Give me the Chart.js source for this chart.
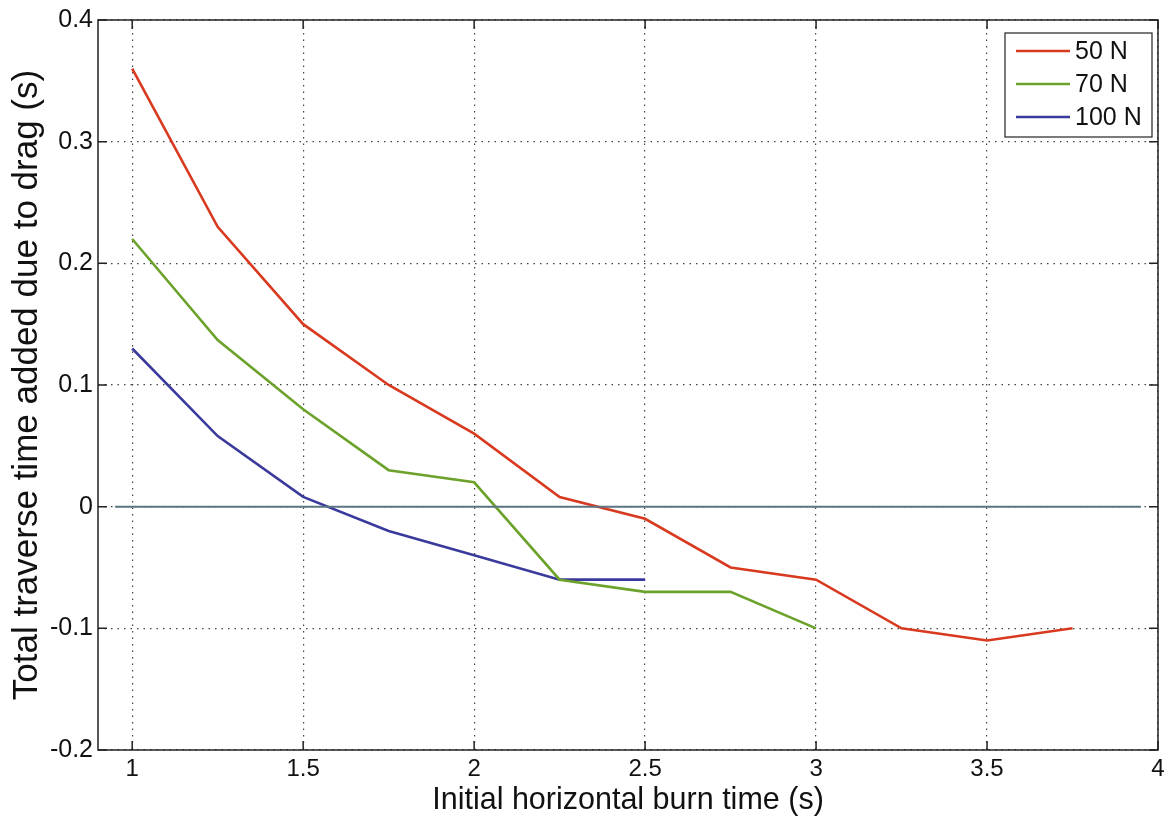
<!DOCTYPE html>
<html>
<head>
<meta charset="utf-8">
<script src="https://cdn.jsdelivr.net/npm/chart.js@4/dist/chart.umd.min.js"></script>
<style>
  html, body { margin: 0; padding: 0; background: #fff; }
  #wrap { width: 1172px; height: 825px; position: relative; }
</style>
</head>
<body>
<div id="wrap"><canvas id="c" width="1172" height="825"></canvas></div>
<script>
// Burn times (s) and the extra traverse time caused by drag (s) for each thrust level
const burnTimes50 = [1, 1.25, 1.5, 1.75, 2, 2.25, 2.5, 2.75, 3, 3.25, 3.5, 3.75];
const added50 = [0.36, 0.23, 0.15, 0.10, 0.06, 0.008, -0.01, -0.05, -0.06, -0.10, -0.11, -0.10];

const burnTimes70 = [1, 1.25, 1.5, 1.75, 2, 2.25, 2.5, 2.75, 3];
const added70 = [0.22, 0.137, 0.08, 0.03, 0.02, -0.06, -0.07, -0.07, -0.10];

const burnTimes100 = [1, 1.25, 1.5, 1.75, 2, 2.25, 2.5];
const added100 = [0.13, 0.058, 0.008, -0.02, -0.04, -0.06, -0.06];

const seriesNames = ['50 N', '70 N', '100 N'];
const seriesColors = ['#d83a1f', '#6ca22c', '#3a3a9c'];

// Reference line at zero
const zeroLineX = [0.95, 3.95];
const zeroLineY = [0, 0];

const xTicks = [1, 1.5, 2, 2.5, 3, 3.5, 4];
const yTicks = [-0.2, -0.1, 0, 0.1, 0.2, 0.3, 0.4];

const FONT = "'Liberation Sans', Arial, Helvetica, sans-serif";

function pts(xs, ys) { return xs.map((x, i) => ({ x: x, y: ys[i] })); }

// Boxed axes with inward tick marks
const frame = {
  id: 'frame',
  afterDatasetsDraw(chart) {
    const { ctx, chartArea: a, scales } = chart;
    ctx.save();
    ctx.strokeStyle = '#222';
    ctx.lineWidth = 1.5;
    ctx.strokeRect(a.left, a.top, a.right - a.left, a.bottom - a.top);
    const len = 9;
    ctx.beginPath();
    xTicks.forEach(v => {
      const px = scales.x.getPixelForValue(v);
      ctx.moveTo(px, a.bottom); ctx.lineTo(px, a.bottom - len);
      ctx.moveTo(px, a.top); ctx.lineTo(px, a.top + len);
    });
    yTicks.forEach(v => {
      const py = scales.y.getPixelForValue(v);
      ctx.moveTo(a.left, py); ctx.lineTo(a.left + len, py);
      ctx.moveTo(a.right, py); ctx.lineTo(a.right - len, py);
    });
    ctx.stroke();
    ctx.restore();
  }
};

// Legend box in the upper right corner of the plot
const boxLegend = {
  id: 'boxLegend',
  afterDraw(chart) {
    const { ctx, chartArea: a } = chart;
    const x0 = a.right - 153, y0 = a.top + 13, w = 147, h = 104;
    ctx.save();
    ctx.fillStyle = '#fff';
    ctx.fillRect(x0, y0, w, h);
    ctx.strokeStyle = '#222';
    ctx.lineWidth = 1.2;
    ctx.strokeRect(x0, y0, w, h);
    ctx.font = '25px ' + FONT;
    ctx.textBaseline = 'middle';
    ctx.fillStyle = '#111';
    seriesNames.forEach((name, i) => {
      const y = y0 + 18 + i * 33;
      ctx.strokeStyle = seriesColors[i];
      ctx.lineWidth = 2.5;
      ctx.beginPath();
      ctx.moveTo(x0 + 11, y); ctx.lineTo(x0 + 65, y);
      ctx.stroke();
      ctx.fillText(name, x0 + 70, y + 1);
    });
    ctx.restore();
  }
};

new Chart(document.getElementById('c'), {
  type: 'line',
  data: {
    datasets: [
      { label: 'zero', data: pts(zeroLineX, zeroLineY), borderColor: '#5d7482', borderWidth: 2, pointRadius: 0 },
      { label: seriesNames[0], data: pts(burnTimes50, added50), borderColor: seriesColors[0], borderWidth: 2.6, pointRadius: 0 },
      { label: seriesNames[1], data: pts(burnTimes70, added70), borderColor: seriesColors[1], borderWidth: 2.6, pointRadius: 0 },
      { label: seriesNames[2], data: pts(burnTimes100, added100), borderColor: seriesColors[2], borderWidth: 2.6, pointRadius: 0 }
    ]
  },
  options: {
    responsive: false,
    animation: false,
    layout: { padding: { left: 0, top: 20, right: 14, bottom: 0 } },
    plugins: { legend: { display: false }, tooltip: { enabled: false } },
    elements: { line: { tension: 0 } },
    scales: {
      x: {
        type: 'linear',
        min: 0.9, max: 4,
        afterBuildTicks(s) { s.ticks = xTicks.map(v => ({ value: v })); },
        afterFit(s) { s.height = 75; },
        ticks: { color: '#111', font: { family: FONT, size: 24 }, padding: 5, maxRotation: 0, autoSkip: false,
                 callback: v => String(v) },
        grid: { color: '#444', lineWidth: 1.2, drawTicks: false },
        border: { display: false, dash: [1.5, 5] },
        title: { display: true, text: 'Initial horizontal burn time (s)', color: '#111',
                 font: { family: FONT, size: 30.5 }, padding: { top: 0, bottom: 6 } }
      },
      y: {
        type: 'linear',
        min: -0.2, max: 0.4,
        afterBuildTicks(s) { s.ticks = yTicks.map(v => ({ value: v })); },
        afterFit(s) { s.width = 98; },
        ticks: { color: '#111', font: { family: FONT, size: 25 }, padding: 5, autoSkip: false,
                 callback: v => String(Math.round(v * 10) / 10) },
        grid: { color: '#444', lineWidth: 1.2, drawTicks: false },
        border: { display: false, dash: [1.5, 5] },
        title: { display: true, text: 'Total traverse time added due to drag (s)', color: '#111',
                 font: { family: FONT, size: 35 }, padding: { top: 6, bottom: 0 } }
      }
    }
  },
  plugins: [frame, boxLegend]
});
</script>
</body>
</html>
